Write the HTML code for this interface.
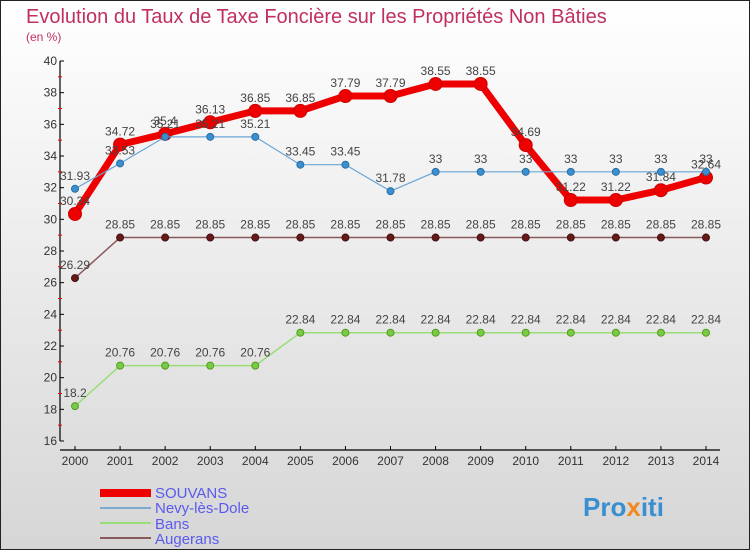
<!DOCTYPE html>
<html><head><meta charset="utf-8"><style>
body{margin:0;width:750px;height:550px;overflow:hidden;font-family:"Liberation Sans",sans-serif}
svg text{font-family:"Liberation Sans",sans-serif}
</style></head><body>
<svg id="c" width="750" height="550" xmlns="http://www.w3.org/2000/svg">
<defs><linearGradient id="bg" x1="0" y1="0" x2="0" y2="1"><stop offset="0" stop-color="#ffffff"/><stop offset="1" stop-color="#d6d6d6"/></linearGradient></defs>
<rect x="0.5" y="0.5" width="749" height="549" fill="url(#bg)" stroke="#222"/>
<text x="26" y="23" font-size="20" fill="#c0305e">Evolution du Taux de Taxe Foncière sur les Propriétés Non Bâties</text>
<text x="26" y="41" font-size="12" fill="#c0305e">(en %)</text>
<g id="axes"></g><g id="series"></g>
<g>
<rect x="100" y="489" width="51" height="8" fill="#e00"/>
<text x="155" y="498" font-size="15" fill="#5a5aee">SOUVANS</text>
<rect x="100" y="507" width="51" height="2" fill="#7aaacf"/>
<text x="155" y="513" font-size="15" fill="#5a5aee">Nevy-lès-Dole</text>
<rect x="100" y="522" width="51" height="2" fill="#99dd77"/>
<text x="155" y="529" font-size="15" fill="#5a5aee">Bans</text>
<rect x="100" y="537" width="51" height="2" fill="#8a5a5a"/>
<text x="155" y="544" font-size="15" fill="#5a5aee">Augerans</text>
</g>
<text x="583" y="516" font-size="26" font-weight="bold" fill="#3a8fd0">Pro<tspan fill="#f08a20">x</tspan>iti</text>
</svg>
<script>
const years=[2000,2001,2002,2003,2004,2005,2006,2007,2008,2009,2010,2011,2012,2013,2014];
const yTicks=[16,18,20,22,24,26,28,30,32,34,36,38,40];
const souvans=[30.34,34.72,35.4,36.13,36.85,36.85,37.79,37.79,38.55,38.55,34.69,31.22,31.22,31.84,32.64];
const nevy=[31.93,33.53,35.21,35.21,35.21,33.45,33.45,31.78,33,33,33,33,33,33,33];
const bans=[18.2,20.76,20.76,20.76,20.76,22.84,22.84,22.84,22.84,22.84,22.84,22.84,22.84,22.84,22.84];
const augerans=[26.29,28.85,28.85,28.85,28.85,28.85,28.85,28.85,28.85,28.85,28.85,28.85,28.85,28.85,28.85];
const NS="http://www.w3.org/2000/svg";
const xS=i=>75+i*(706-75)/(years.length-1);
const yS=v=>441-(v-16)*(380/24);
function mk(t,a,p){const e=document.createElementNS(NS,t);for(const k in a)e.setAttribute(k,a[k]);p.appendChild(e);return e;}
const ax=document.getElementById('axes');
const yl=mk('line',{x1:60,y1:61,x2:60,y2:441,stroke:'#000','stroke-width':1.2},ax);


yTicks.forEach((t,i)=>{
 mk('line',{x1:60,x2:64,y1:yS(t),y2:yS(t),stroke:'#000'},ax);
 if(i<yTicks.length-1) mk('line',{x1:58,x2:62,y1:yS(t+1),y2:yS(t+1),stroke:'#e00'},ax);
 const tx=mk('text',{x:57,y:yS(t)+4,'font-size':12,'text-anchor':'end',fill:'#333'},ax);tx.textContent=t;
 
 
});
const xl=mk('line',{x1:60,y1:450,x2:720,y2:450,stroke:'#000','stroke-width':1.2},ax);


years.forEach((y,i)=>{
 mk('line',{x1:xS(i),x2:xS(i),y1:446,y2:450,stroke:'#000'},ax);
 const tx=mk('text',{x:xS(i),y:465,'font-size':12,'text-anchor':'middle',fill:'#333'},ax);tx.textContent=y;
 
 
});
const sg=document.getElementById('series');
function draw(vals,name,col,w,r,dot,dotStroke){
 const g=mk('g',{},sg);
 
 
 mk('polyline',{points:vals.map((v,i)=>xS(i)+','+yS(v)).join(' '),fill:'none',stroke:col,'stroke-width':w,'stroke-linejoin':'round'},g);
 vals.forEach((v,i)=>{
  const c=mk('circle',{cx:xS(i),cy:yS(v),r:r,fill:dot,stroke:dotStroke,'stroke-width':1},g);
  
  
  const t=mk('text',{x:xS(i),y:yS(v)-9,'font-size':12,'text-anchor':'middle',fill:'#444'},g);t.textContent=v;
  
  
 });
}
draw(bans,'bans','#99dd77',1.5,3.5,'#77cc44','#559922');
draw(augerans,'augerans','#8a5a5a',1.5,3.5,'#661a1a','#441010');
draw(souvans,'souvans','#ee0000',7,6.5,'#ee0000','#cc0000');
draw(nevy,'nevy','#6aa5d5',1.2,3.5,'#3a8fd0','#2a6fa0');
</script>
</body></html>
